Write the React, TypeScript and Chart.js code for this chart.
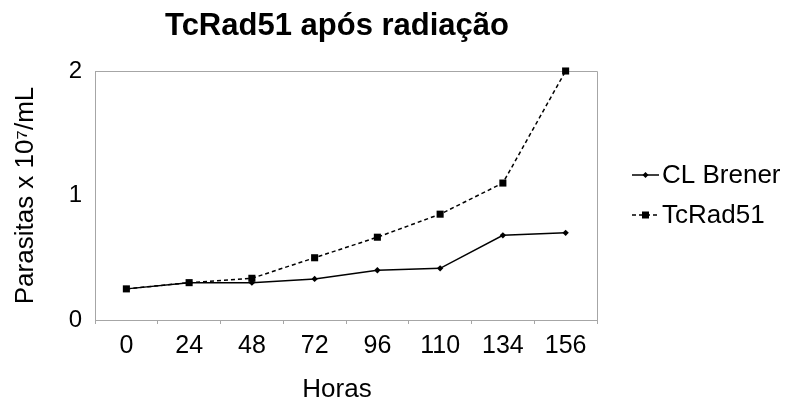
import React, { useEffect, useRef } from "react";
import { Chart, registerables } from "chart.js";

Chart.register(...registerables);

const chartTitle = "TcRad51 após radiação";
const xAxisTitle = "Horas";
const yAxisTitle = "Parasitas x 10\u2077/mL";
const hours = ["0", "24", "48", "72", "96", "110", "134", "156"];
const seriesNames = ["CL Brener", "TcRad51"];
const clBrener = [0.25, 0.3, 0.3, 0.33, 0.4, 0.415, 0.68, 0.7];
const tcRad51 = [0.25, 0.3, 0.335, 0.5, 0.665, 0.85, 1.1, 2.0];
const yTicks = [0, 1, 2];

const FONT = "'Liberation Sans', Arial, Helvetica, sans-serif";
const FRAME = "#a6a6a6";

const decorPlugin = {
  id: "decor",
  beforeDatasetsDraw(chart: any) {
    const { ctx, chartArea } = chart;
    ctx.save();
    ctx.strokeStyle = FRAME;
    ctx.lineWidth = 1;
    ctx.beginPath();
    ctx.moveTo(Math.round(chartArea.left) + 0.5, Math.round(chartArea.top) + 0.5);
    ctx.lineTo(Math.round(chartArea.right) + 0.5, Math.round(chartArea.top) + 0.5);
    ctx.lineTo(Math.round(chartArea.right) + 0.5, Math.round(chartArea.bottom) + 0.5);
    ctx.stroke();
    ctx.restore();
  },
  afterDraw(chart: any) {
    const { ctx, chartArea } = chart;
    ctx.save();
    ctx.fillStyle = "#000";
    // main title
    ctx.font = `bold 31px ${FONT}`;
    ctx.textAlign = "center";
    ctx.textBaseline = "alphabetic";
    ctx.fillText(chartTitle, 337, 35);
    // x axis title
    ctx.font = `26px ${FONT}`;
    ctx.fillText(xAxisTitle, 337, 397);
    // y axis title
    ctx.save();
    ctx.translate(33, (chartArea.top + chartArea.bottom) / 2);
    ctx.rotate(-Math.PI / 2);
    ctx.fillText(yAxisTitle, 0, 0);
    ctx.restore();
    // legend
    const items = chart.data.datasets;
    const rows = [175, 215];
    items.forEach((ds: any, i: number) => {
      const y = rows[i];
      ctx.strokeStyle = "#000";
      ctx.lineWidth = 1.5;
      ctx.setLineDash(ds.borderDash || []);
      ctx.beginPath();
      ctx.moveTo(632, y);
      ctx.lineTo(659, y);
      ctx.stroke();
      ctx.setLineDash([]);
      ctx.fillStyle = "#000";
      ctx.beginPath();
      if (ds.pointStyle === "rect") {
        ctx.rect(645.5 - 3.5, y - 3.5, 7, 7);
      } else {
        ctx.moveTo(645.5, y - 3);
        ctx.lineTo(648.5, y);
        ctx.lineTo(645.5, y + 3);
        ctx.lineTo(642.5, y);
        ctx.closePath();
      }
      ctx.fill();
      ctx.font = `26px ${FONT}`;
      ctx.textAlign = "left";
      ctx.textBaseline = "middle";
      ctx.fillText(ds.label, 662, y + 1);
    });
    ctx.restore();
  },
};

export default function App() {
  const ref = useRef<HTMLCanvasElement | null>(null);
  useEffect(() => {
    if (!ref.current) return;
    const chart = new Chart(ref.current, {
      type: "line",
      data: {
        labels: hours,
        datasets: [
          {
            label: seriesNames[0],
            data: clBrener,
            borderColor: "#000",
            backgroundColor: "#000",
            borderWidth: 1.5,
            pointStyle: "rectRot",
            pointRadius: 3.2,
            pointBorderWidth: 0,
            clip: false,
            tension: 0,
          },
          {
            label: seriesNames[1],
            data: tcRad51,
            borderColor: "#000",
            backgroundColor: "#000",
            borderWidth: 1.5,
            borderDash: [4, 3],
            pointStyle: "rect",
            pointRadius: 5,
            pointBorderWidth: 0,
            clip: false,
            tension: 0,
          },
        ],
      },
      options: {
        animation: false,
        responsive: false,
        layout: { padding: { left: 0, top: 71, right: 191, bottom: 0 } },
        plugins: {
          legend: { display: false },
          title: { display: false },
          tooltip: { enabled: false },
        },
        scales: {
          x: {
            type: "category",
            offset: true,
            grid: {
              offset: true,
              drawOnChartArea: false,
              drawTicks: true,
              tickLength: 4,
              color: FRAME,
            },
            border: { display: true, color: FRAME, width: 1 },
            ticks: {
              color: "#000",
              font: { family: FONT, size: 25 },
              padding: 7,
              maxRotation: 0,
              autoSkip: false,
            },
            afterFit: (s: any) => {
              s.height = 83;
            },
          },
          y: {
            min: 0,
            max: 2,
            afterBuildTicks: (s: any) => {
              s.ticks = yTicks.map((v) => ({ value: v }));
            },
            grid: { drawOnChartArea: false, drawTicks: false },
            border: { display: true, color: FRAME, width: 1 },
            ticks: {
              color: "#000",
              font: { family: FONT, size: 24 },
              padding: 13,
            },
            afterFit: (s: any) => {
              s.width = 95;
            },
          },
        },
      },
      plugins: [decorPlugin],
    });
    return () => chart.destroy();
  }, []);
  return (
    <div style={{ position: "absolute", left: 0, top: 0, width: 788, height: 403, background: "#fff" }}>
      <canvas ref={ref} width={788} height={403} style={{ display: "block" }} />
    </div>
  );
}
